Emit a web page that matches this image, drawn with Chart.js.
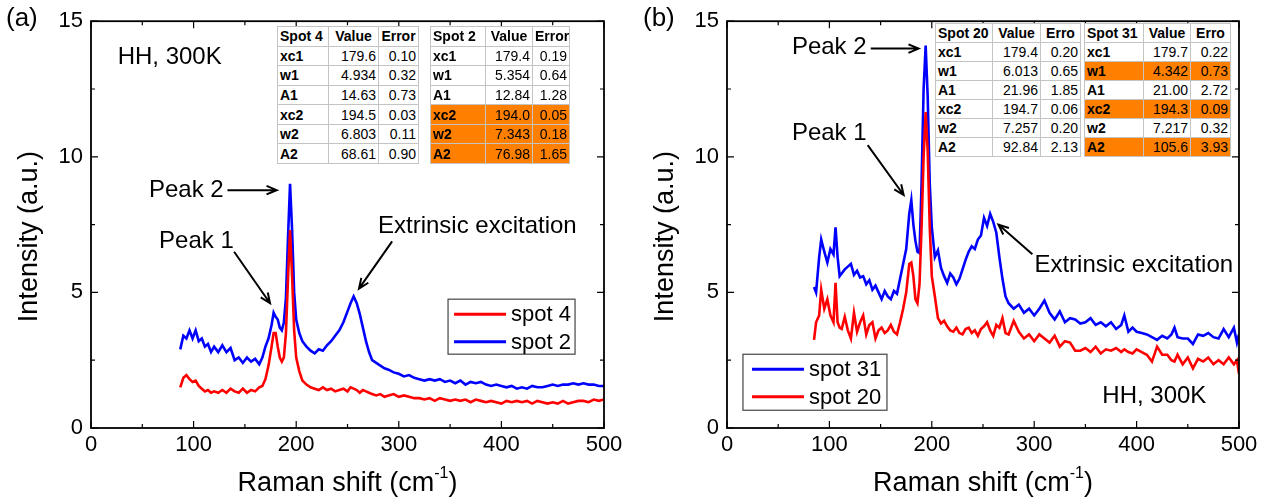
<!DOCTYPE html>
<html>
<head>
<meta charset="utf-8">
<script src="https://cdn.jsdelivr.net/npm/chart.js@4.4.1/dist/chart.umd.min.js"></script>
<style>
  body { margin: 0; background: #fff; width: 1269px; height: 503px; position: relative; overflow: hidden;
         font-family: 'Liberation Sans', Arial, sans-serif; }
  canvas { position: absolute; top: 0; }
  #chartA { left: 0; }
  #chartB { left: 634px; }
  table.fit { position: absolute; border-collapse: collapse; table-layout: fixed; background: #fff;
              border: 1.5px solid #333; font-size: 14px; color: #000; }
  table.fit td { border: 1px solid #c4c4c4; padding: 0 2px; white-space: nowrap; overflow: hidden;
                 text-align: right; line-height: 16px; }
  table.fit td:first-child { font-weight: bold; text-align: left; }
  table.fit tr.head td { font-weight: bold; text-align: center; }
  table.fit tr.head td:first-child { text-align: left; }
  table.fit tr.hl td { background: #ff8000; }
</style>
</head>
<body>
<canvas id="chartA" width="634" height="503"></canvas>
<canvas id="chartB" width="635" height="503"></canvas>
<script>
const FONT = "'Liberation Sans', Arial, sans-serif";

// panel (a): Raman shift (cm-1) and intensities
const shiftA = [
  87, 90, 93, 96, 99, 102, 105, 108, 111, 114,
  117, 120, 124, 128, 132, 136, 140, 144, 148, 152,
  156, 160, 164, 167, 170, 173, 176, 178, 180, 182,
  184, 186, 188, 190, 192, 194, 196, 198, 200, 203,
  206, 210, 214, 218, 222, 226, 230, 234, 238, 242,
  246, 250, 253, 256, 259, 262, 265, 268, 271, 274,
  278, 282, 286, 290, 295, 300, 305, 310, 315, 320,
  325, 330, 335, 340, 345, 350, 355, 360, 365, 370,
  375, 380, 385, 390, 395, 400, 405, 410, 415, 420,
  425, 430, 435, 440, 445, 450, 455, 460, 465, 470,
  475, 480, 485, 490, 495, 500
];
const spot4 = [
  1.5, 1.85, 1.95, 1.8, 1.7, 1.75, 1.55, 1.45, 1.35, 1.4,
  1.3, 1.35, 1.3, 1.4, 1.3, 1.45, 1.35, 1.3, 1.45, 1.3,
  1.4, 1.35, 1.5, 1.55, 1.8, 2.3, 3.0, 3.5, 3.5, 3.0,
  2.6, 2.45, 2.6, 3.5, 5.5, 7.3, 5.6, 3.6, 2.6, 2.1,
  1.75, 1.6, 1.5, 1.45, 1.4, 1.5, 1.4, 1.45, 1.35, 1.4,
  1.45, 1.35, 1.5, 1.45, 1.4, 1.3, 1.4, 1.35, 1.3, 1.25,
  1.2, 1.25, 1.15, 1.2, 1.25, 1.15, 1.2, 1.15, 1.1, 1.1,
  1.05, 1.1, 1.0, 1.1, 1.05, 1.0, 1.05, 1.0, 1.05, 0.95,
  1.05, 1.0, 0.95, 1.0, 0.95, 0.9, 1.0, 0.95, 1.0, 0.95,
  1.0, 0.9, 1.0, 0.95, 0.9, 0.95, 0.9, 1.0, 0.9, 0.95,
  1.0, 1.0, 0.95, 1.05, 1.0, 1.05
];
const spot2 = [
  2.9, 3.4, 3.3, 3.6, 3.3, 3.6, 3.2, 3.3, 3.0, 3.1,
  2.8, 3.0, 2.8, 3.05, 2.8, 2.95, 2.5, 2.6, 2.4, 2.6,
  2.45, 2.55, 2.35, 2.6, 3.0, 3.3, 3.8, 4.25, 4.1, 4.0,
  3.7, 3.6, 3.9, 4.8, 7.0, 9.0, 7.3, 5.0, 4.0, 3.5,
  3.2, 3.0, 2.85, 2.75, 2.9, 2.85, 3.05, 3.2, 3.4, 3.6,
  3.9, 4.3, 4.6, 4.85, 4.6, 4.2, 3.7, 3.2, 2.8, 2.5,
  2.4, 2.3, 2.2, 2.15, 2.05, 2.0, 1.9, 1.95, 1.85, 1.8,
  1.75, 1.8, 1.75, 1.8, 1.7, 1.75, 1.65, 1.75, 1.6, 1.7,
  1.65, 1.7, 1.6, 1.55, 1.6, 1.55, 1.5, 1.55, 1.45, 1.5,
  1.45, 1.55, 1.5, 1.5, 1.55, 1.6, 1.55, 1.6, 1.6, 1.65,
  1.6, 1.65, 1.6, 1.6, 1.55, 1.55
];

// panel (b)
const shiftB = [
  85, 87, 90, 92, 95, 98, 101, 104, 106, 108,
  110, 112, 115, 118, 121, 124, 127, 130, 133, 136,
  139, 142, 145, 148, 151, 154, 157, 160, 163, 166,
  169, 172, 175, 178, 180, 182, 184, 186, 188, 190,
  192, 194, 196, 198, 200, 203, 206, 209, 212, 215,
  218, 221, 224, 227, 230, 233, 236, 239, 242, 245,
  248, 251, 254, 257, 260, 263, 266, 269, 272, 275,
  280, 285, 290, 295, 300, 305, 310, 315, 320, 325,
  330, 335, 340, 345, 350, 355, 360, 365, 370, 375,
  380, 385, 388, 392, 396, 400, 405, 410, 415, 420,
  425, 430, 434, 437, 440, 445, 450, 455, 460, 465,
  470, 475, 480, 485, 490, 495, 498, 500
];
const spot31 = [
  5.2, 5.0, 6.3, 6.95, 6.5, 6.1, 6.6, 6.4, 7.4, 6.3,
  5.6, 5.7, 5.85, 5.95, 6.05, 5.65, 5.8, 5.55, 5.6, 5.3,
  5.45, 5.1, 5.25, 5.0, 4.75, 5.05, 4.85, 4.75, 5.05, 4.95,
  5.5, 6.05, 6.6, 7.9, 8.4, 7.5, 6.9, 6.5, 6.45, 9.0,
  12.5, 14.1, 12.2, 9.0, 7.4, 6.3, 6.55, 5.9, 5.6, 5.35,
  5.7, 5.55, 5.3, 5.5, 5.85, 6.2, 6.5, 6.7, 6.6, 6.95,
  7.1, 7.75, 7.45, 7.9, 7.6, 7.2, 6.3, 5.5, 4.85, 4.6,
  4.4, 4.55, 4.25, 4.4, 4.15, 4.4, 4.7, 4.25, 4.0, 4.3,
  3.9, 4.05, 4.0, 3.85, 3.9, 4.05, 3.8, 3.9, 3.75, 3.9,
  3.65, 3.8, 4.15, 3.55, 3.7, 3.55, 3.5, 3.45, 3.35, 3.25,
  3.4, 3.3, 3.45, 3.7, 3.35, 3.3, 3.3, 3.1, 3.45, 3.4,
  3.5, 3.35, 3.3, 3.65, 3.35, 3.7, 3.15, 3.45
];
const spot20 = [
  3.25, 3.9, 4.15, 5.1, 4.4, 4.75, 4.15, 3.9, 5.35, 3.9,
  3.7, 3.65, 4.1, 3.6, 3.3, 4.25, 3.55, 3.9, 4.15, 3.45,
  3.8, 3.9, 3.3, 3.6, 3.7, 3.5, 3.6, 3.8, 3.55, 3.45,
  3.9, 4.4, 5.0, 6.05, 6.1, 5.6, 4.75, 4.6, 5.3, 7.4,
  10.0, 11.65, 10.2, 7.4, 5.6, 4.85, 4.05, 3.85, 3.95, 3.75,
  3.6, 3.55, 3.7, 3.5, 3.45, 3.65, 3.7, 3.5, 3.6, 3.4,
  3.65, 3.75, 3.9, 3.6, 3.4, 3.8, 3.7, 4.05, 3.5, 3.45,
  3.95, 3.55, 3.3, 3.45, 3.2, 3.45, 3.3, 3.15, 3.4, 3.0,
  3.2, 3.15, 2.85, 2.85, 2.95, 2.8, 3.0, 2.75, 2.9, 2.85,
  2.95, 2.8, 2.9, 2.8, 2.75, 2.9, 2.8, 2.7, 2.45, 3.0,
  2.7, 2.7, 2.5, 2.45, 2.7, 2.35, 2.6, 2.2, 2.55, 2.45,
  2.6, 2.35, 2.5, 2.35, 2.6, 2.35, 2.5, 2.0
];

// fit tables
const params = ['xc1', 'w1', 'A1', 'xc2', 'w2', 'A2'];
const spot4Val = ['179.6', '4.934', '14.63', '194.5', '6.803', '68.61'];
const spot4Err = ['0.10', '0.32', '0.73', '0.03', '0.11', '0.90'];
const spot2Val = ['179.4', '5.354', '12.84', '194.0', '7.343', '76.98'];
const spot2Err = ['0.19', '0.64', '1.28', '0.05', '0.18', '1.65'];
const spot20Val = ['179.4', '6.013', '21.96', '194.7', '7.257', '92.84'];
const spot20Err = ['0.20', '0.65', '1.85', '0.06', '0.20', '2.13'];
const spot31Val = ['179.7', '4.342', '21.00', '194.3', '7.217', '105.6'];
const spot31Err = ['0.22', '0.73', '2.72', '0.09', '0.32', '3.93'];

function buildTable(left, top, widths, height, head, errHead, vals, errs, marked) {
  const t = document.createElement('table');
  t.className = 'fit';
  t.style.left = left + 'px';
  t.style.top = top + 'px';
  t.style.width = widths.reduce((s, w) => s + w, 0) + 'px';
  t.style.height = height + 'px';
  const cg = document.createElement('colgroup');
  widths.forEach(w => {
    const c = document.createElement('col');
    c.style.width = w + 'px';
    cg.appendChild(c);
  });
  t.appendChild(cg);
  const rows = [[head, 'Value', errHead]].concat(params.map((p, i) => [p, vals[i], errs[i]]));
  rows.forEach((r, i) => {
    const tr = document.createElement('tr');
    if (i === 0) tr.className = 'head';
    if (marked.includes(i - 1)) tr.className = 'hl';
    r.forEach(txt => {
      const td = document.createElement('td');
      td.textContent = txt;
      tr.appendChild(td);
    });
    t.appendChild(tr);
  });
  document.body.appendChild(t);
}

const arrowPlugin = {
  id: 'frame',
  afterDatasetsDraw(chart, args, o) {
    const { ctx, chartArea: a, scales: { x, y } } = chart;
    ctx.save();
    // box + inward ticks
    ctx.strokeStyle = '#000';
    ctx.lineWidth = 1.2;
    ctx.beginPath();
    for (let v = x.min; v <= x.max; v += 50) {
      const px = x.getPixelForValue(v), len = v % 100 ? 4 : 7;
      ctx.moveTo(px, a.bottom); ctx.lineTo(px, a.bottom - len);
      ctx.moveTo(px, a.top); ctx.lineTo(px, a.top + len);
    }
    for (let v = y.min; v <= y.max; v += 2.5) {
      const py = y.getPixelForValue(v), len = v % 5 ? 4 : 7;
      ctx.moveTo(a.left, py); ctx.lineTo(a.left + len, py);
      ctx.moveTo(a.right, py); ctx.lineTo(a.right - len, py);
    }
    ctx.stroke();
    ctx.lineWidth = 1.8;
    ctx.strokeRect(a.left, a.top, a.right - a.left, a.bottom - a.top);

    // axis titles
    ctx.fillStyle = '#000';
    ctx.textBaseline = 'middle';
    ctx.font = '27px ' + FONT;
    const main = 'Raman shift (cm', sup = '-1', tail = ')';
    const w1 = ctx.measureText(main).width, w3 = ctx.measureText(tail).width;
    ctx.font = '16px ' + FONT;
    const w2 = ctx.measureText(sup).width;
    let tx = (a.left + a.right) / 2 - (w1 + w2 + w3) / 2;
    const ty = 484;
    ctx.textAlign = 'left';
    ctx.font = '27px ' + FONT;
    ctx.fillText(main, tx, ty);
    ctx.font = '16px ' + FONT;
    ctx.fillText(sup, tx + w1, ty - 10);
    ctx.font = '27px ' + FONT;
    ctx.fillText(tail, tx + w1 + w2, ty);

    ctx.save();
    ctx.translate(a.left - 61, (a.top + a.bottom) / 2 + 12);
    ctx.rotate(-Math.PI / 2);
    ctx.textAlign = 'center';
    ctx.fillText('Intensity (a.u.)', 0, 0);
    ctx.restore();

    // panel tag
    ctx.font = '26px ' + FONT;
    ctx.textAlign = 'left';
    ctx.fillText(o.tag, o.tagX, 19);

    // legend
    const lg = o.legend;
    const bx = x.getPixelForValue(lg.x), by = y.getPixelForValue(lg.y);
    ctx.fillStyle = '#fff';
    ctx.fillRect(bx, by, lg.w, lg.h);
    ctx.strokeStyle = '#444';
    ctx.lineWidth = 1.2;
    ctx.strokeRect(bx, by, lg.w, lg.h);
    ctx.font = '22px ' + FONT;
    chart.data.datasets.forEach((ds, i) => {
      const ry = by + 15 + i * 27.5;
      ctx.strokeStyle = ds.borderColor;
      ctx.lineWidth = 3;
      ctx.beginPath();
      ctx.moveTo(bx + lg.pad, ry); ctx.lineTo(bx + lg.pad + 52, ry);
      ctx.stroke();
      ctx.fillStyle = '#000';
      ctx.fillText(ds.label, bx + lg.pad + 57, ry + 1);
    });

    // annotations with arrows
    ctx.font = '24px ' + FONT;
    ctx.strokeStyle = '#000';
    ctx.fillStyle = '#000';
    o.notes.forEach(n => {
      if (n.text) ctx.fillText(n.text, x.getPixelForValue(n.x), y.getPixelForValue(n.y));
      if (!n.from) return;
      const x0 = x.getPixelForValue(n.from[0]), y0 = y.getPixelForValue(n.from[1]);
      const x1 = x.getPixelForValue(n.to[0]), y1 = y.getPixelForValue(n.to[1]);
      const ang = Math.atan2(y1 - y0, x1 - x0);
      ctx.beginPath();
      ctx.moveTo(x0, y0); ctx.lineTo(x1, y1);
      ctx.moveTo(x1 - 11 * Math.cos(ang - 0.4), y1 - 11 * Math.sin(ang - 0.4));
      ctx.lineTo(x1, y1);
      ctx.lineTo(x1 - 11 * Math.cos(ang + 0.4), y1 - 11 * Math.sin(ang + 0.4));
      ctx.lineWidth = 2;
      ctx.stroke();
    });
    ctx.restore();
  }
};

function makeChart(id, shift, sets, frameOpts) {
  const tickFont = { size: 22, family: FONT };
  return new Chart(document.getElementById(id), {
    type: 'line',
    data: {
      datasets: sets.map(s => ({
        label: s.label,
        data: shift.map((v, i) => ({ x: v, y: s.values[i] })),
        borderColor: s.color,
        borderWidth: 2.6,
        pointRadius: 0,
        tension: 0,
        order: s.order
      }))
    },
    options: {
      responsive: false,
      animation: false,
      events: [],
      layout: { padding: { top: 13, right: 30, left: 0, bottom: 0 } },
      plugins: { legend: { display: false }, tooltip: { enabled: false }, frame: frameOpts },
      scales: {
        x: {
          type: 'linear', min: 0, max: 500,
          grid: { display: false, drawTicks: false }, border: { display: false },
          ticks: { stepSize: 100, color: '#000', font: tickFont, padding: 4, maxRotation: 0 },
          afterFit: s => { s.height = 75; }
        },
        y: {
          min: 0, max: 15,
          grid: { display: false, drawTicks: false }, border: { display: false },
          ticks: { stepSize: 5, color: '#000', font: tickFont, padding: 8 },
          afterFit: s => { s.width = frameOpts.yWidth; }
        }
      }
    },
    plugins: [arrowPlugin]
  });
}

makeChart('chartA', shiftA, [
  { label: 'spot 4', values: spot4, color: '#ff0000', order: 0 },
  { label: 'spot 2', values: spot2, color: '#0000ff', order: 1 }
], {
  yWidth: 91, tag: '(a)', tagX: 6,
  legend: { x: 348, y: 4.75, w: 127, h: 55, pad: 6 },
  notes: [
    { text: 'HH, 300K', x: 26, y: 13.65 },
    { text: 'Peak 2', x: 56.5, y: 8.77, from: [133, 8.77], to: [181, 8.77] },
    { text: 'Peak 1', x: 66.3, y: 6.88, from: [139.5, 6.5], to: [174.5, 4.6] },
    { text: 'Extrinsic excitation', x: 279.7, y: 7.43, from: [293.5, 6.88], to: [261.2, 5.14] }
  ]
});

makeChart('chartB', shiftB, [
  { label: 'spot 31', values: spot31, color: '#0000ff', order: 1 },
  { label: 'spot 20', values: spot20, color: '#ff0000', order: 0 }
], {
  yWidth: 93, tag: '(b)', tagX: 9,
  legend: { x: 15.6, y: 2.72, w: 144, h: 56, pad: 9 },
  notes: [
    { text: 'HH, 300K', x: 366.5, y: 1.16 },
    { text: 'Peak 2', x: 63.4, y: 14.02, from: [140.4, 13.99], to: [187.1, 13.99] },
    { text: 'Peak 1', x: 63.4, y: 10.87, from: [137.4, 10.43], to: [172.5, 8.59] },
    { text: 'Extrinsic excitation', x: 300.2, y: 5.98, from: [298.2, 6.41], to: [265.1, 7.5] }
  ]
});

buildTable(277, 26, [51, 50, 40], 138, 'Spot 4', 'Error', spot4Val, spot4Err, []);
buildTable(430, 26, [55, 47, 37], 138, 'Spot 2', 'Error', spot2Val, spot2Err, [3, 4, 5]);
buildTable(935, 23, [57, 48, 40], 134, 'Spot 20', 'Erro', spot20Val, spot20Err, []);
buildTable(1084, 23, [59, 47, 40], 134, 'Spot 31', 'Erro', spot31Val, spot31Err, [1, 3, 5]);
</script>
</body>
</html>
